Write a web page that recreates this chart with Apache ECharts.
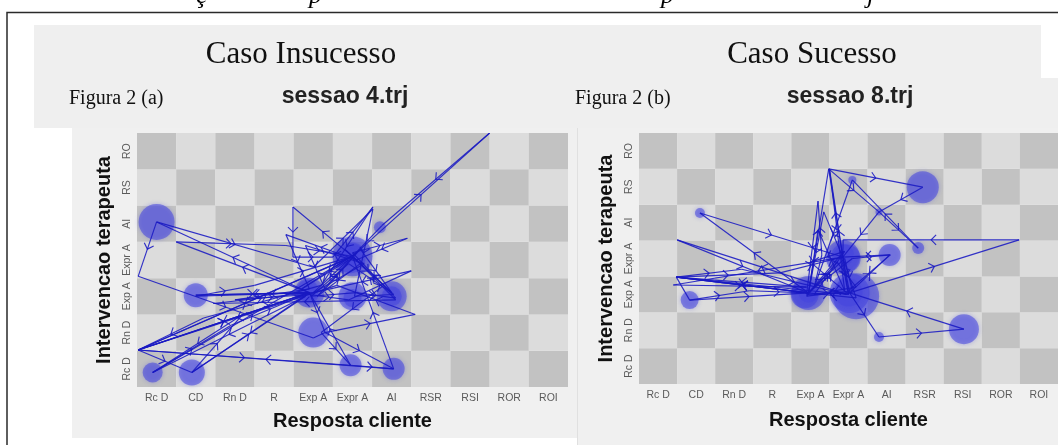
<!DOCTYPE html>
<html>
<head>
<meta charset="utf-8">
<script src="https://cdn.jsdelivr.net/npm/echarts@6/dist/echarts.min.js"></script>
<style>
html,body{margin:0;padding:0;background:#fff;}
#c{width:1058px;height:445px;}
</style>
</head>
<body>
<div id="c"></div>
<script>
// ---------- data ----------
const xCats = ['Rc D','CD','Rn D','R','Exp A','Expr A','AI','RSR','RSI','ROR','ROI'];
const yCats = ['Rc D','Rn D','Exp A','Expr A','AI','RS','RO'];

const headerLeft = 'Caso Insucesso';
const headerRight = 'Caso Sucesso';
const figLeft = 'Figura 2 (a)';
const figRight = 'Figura 2 (b)';
const titleLeft = 'sessao 4.trj';
const titleRight = 'sessao 8.trj';
const xTitle = 'Resposta cliente';
const yTitle = 'Intervencao terapeuta';

// bubbles: [x index, y index, visit weight (diameter)]
const leftBubbles = [
  [0,4.05,36],[1,2.03,24],[-0.1,-0.1,20],[0.9,-0.1,26],
  [5,3.1,40],[4.95,3.05,30],[5.0,3.15,24],[4.92,3.1,18],
  [3.9,2.1,30],[3.85,2.15,22],[3.9,2.05,18],
  [5,2.0,28],[5.0,1.95,18],[6,2.0,30],[6.0,2.0,20],
  [4,1.0,30],[4.95,0.1,22],[6.05,0.0,22],[5.7,3.9,12]
];
const rightBubbles = [
  [1.1,4.27,10],[0.83,1.84,18],[3.95,2.04,34],[3.85,2.0,28],[3.95,2.05,20],
  [4.85,3.04,34],[4.95,3.0,28],[4.85,3.1,22],[5.2,1.95,46],[5.03,2.04,40],[5.0,2.05,28],
  [6.08,3.1,22],[6.95,4.99,32],[6.83,3.29,12],[8.03,1.03,30],
  [5.8,0.81,10],[5.1,5.19,8],[5.8,4.3,7]
];

// trajectories: sequence of visited positions
const leftPath = [
  [0,4.05],[-0.47,2.55],[4.0,0.85],[4.3,1.0],[6.05,0.0],[-0.47,0.52],
  [3.9,2.1],[0.5,3.5],[3.3,3.4],[5.0,3.1],[3.48,4.46],[3.48,3.08],
  [4.5,3.08],[5.52,4.46],[4.2,2.3],[1.2,1.4],[-0.47,0.52],[4.95,0.1],
  [3.9,2.1],[0,4.05],[4.0,2.8],[5.52,4.4],[5.05,2.0],[6.05,2.05],
  [5.0,3.1],[8.5,6.5],[5.75,3.95],[5.0,3.1],[6.1,1.9],[1.45,1.8],
  [3.9,2.1],[1.0,2.03],[3.9,2.1],[-0.47,0.52],[0.9,-0.1],[2.2,1.5],
  [-0.1,-0.1],[1.9,1.2],[3.9,2.1],[4.3,1.0],[6.6,1.5],[4.6,2.3],
  [-0.47,0.52],[5.0,3.1],[5.8,2.3],[4.2,1.0],[4.95,0.1],[6.05,0.0],
  [5.0,3.1],[4.8,3.3],[5.2,2.9],[4.1,2.0],[5.1,3.2],[3.7,2.2],
  [4.9,3.0],[4.0,2.1],[5.3,2.9],[3.8,3.4],[4.3,2.2],[5.2,3.3],
  [6.0,2.1],[4.9,2.9],[3.95,2.0],[5.1,2.1],[6.1,1.95],[5.0,3.2],
  [6.4,3.6],[5.1,3.0],[3.3,3.7],[3.9,2.2],[2.0,1.9],[3.9,2.05],
  [4.9,1.9],[6.5,2.7],[4.0,2.1],[1.0,2.0],[2.5,2.3],[5.0,3.1],
  [-0.47,0.52],[3.9,2.1],[0.9,-0.1],[3.8,2.0],[-0.1,-0.1],[5.0,3.1]
];
const rightPath = [
  [0.83,1.84],[2.4,2.1],[3.95,2.04],[0.48,2.48],[2.2,2.7],[4.95,2.0],
  [0.5,3.52],[3.95,2.04],[1.1,4.27],[4.85,3.04],[0.4,2.26],[3.9,2.2],
  [0.48,2.48],[3.2,2.6],[4.85,3.04],[4.35,4.3],[3.95,2.04],[4.48,5.5],
  [6.95,4.99],[5.8,4.3],[4.85,3.04],[4.48,5.5],[5.8,4.3],[6.83,3.29],
  [5.1,5.19],[4.1,2.2],[4.3,3.1],[4.2,4.6],[3.9,2.0],[5.03,2.04],
  [9.48,3.52],[4.86,3.52],[4.85,3.04],[5.03,2.04],[5.8,0.81],[8.03,1.03],
  [5.03,2.04],[6.08,3.1],[4.85,3.04],[5.2,1.9],[3.95,2.04],[0.48,2.48],[0.83,1.84],
  [3.95,2.04],[4.8,3.1],[5.0,2.0],[4.0,2.1],[4.9,3.0],[5.1,2.1],
  [3.9,1.95],[4.7,2.9],[5.2,2.2],[4.1,2.0],[4.9,3.2],[4.0,2.9],
  [5.0,2.0],[4.5,5.5],[4.9,2.1],[4.2,3.8],[3.95,2.04],[0.48,2.48],
  [4.0,2.1],[5.1,3.0],[6.1,3.1],[5.0,2.1]
];

// ---------- helpers ----------
const DARK = '#c2c2c2', LIGHT = '#dcdcdc';
const LINE = 'rgba(25,25,195,0.88)';
const BUB = 'rgba(70,70,222,0.7)';

function boardCells(){
  const out=[];
  for(let i=0;i<xCats.length;i++) for(let j=0;j<yCats.length;j++) out.push([i,j,(i+j)%2]);
  return out;
}
function segments(path){
  const out=[];
  for(let k=0;k<path.length-1;k++) out.push([path[k][0],path[k][1],path[k+1][0],path[k+1][1]]);
  return out;
}
function boardRender(params, api){
  const i=api.value(0), j=api.value(1);
  const tl=api.coord([i-0.5, j+0.5]);
  const br=api.coord([i+0.5, j-0.5]);
  return {type:'rect', shape:{x:tl[0],y:tl[1],width:br[0]-tl[0],height:br[1]-tl[1]},
          style:{fill: api.value(2)===0 ? DARK : LIGHT}};
}
function trajRender(params, api){
  const a=api.coord([api.value(0),api.value(1)]);
  const b=api.coord([api.value(2),api.value(3)]);
  const dx=b[0]-a[0], dy=b[1]-a[1], len=Math.hypot(dx,dy);
  const ch=[{type:'line',shape:{x1:a[0],y1:a[1],x2:b[0],y2:b[1]},style:{stroke:LINE,lineWidth:1.15}}];
  if(len>35){
    const ux=dx/len, uy=dy/len, mx=a[0]+dx*0.5, my=a[1]+dy*0.5, s=7, ang=Math.PI/4;
    const bx=-ux, by=-uy, c=Math.cos(ang), sn=Math.sin(ang);
    const p1=[mx+s*(bx*c-by*sn), my+s*(bx*sn+by*c)];
    const p2=[mx+s*(bx*c+by*sn), my+s*(-bx*sn+by*c)];
    ch.push({type:'polyline',shape:{points:[p1,[mx,my],p2]},style:{stroke:LINE,fill:null,lineWidth:1.15}});
  }
  return {type:'group',children:ch};
}

const grids=[
  {left:137, top:133, width:431, height:254},
  {left:639, top:133, width:440, height:251}
];
const tickFont={fontFamily:'Liberation Sans, Arial, sans-serif', fontSize:10.5, color:'#5a5a5a'};
const nameFont={fontFamily:'Liberation Sans, Arial, sans-serif', fontSize:20, fontWeight:'bold', color:'#111'};

const xAxis=[], yAxis=[], series=[];
[0,1].forEach(g=>{
  xAxis.push({type:'value',gridIndex:g,min:-0.5,max:10.5,show:false});
  xAxis.push({type:'category',gridIndex:g,data:xCats,position:'bottom',
    axisLine:{show:false},axisTick:{show:false},splitLine:{show:false},
    axisLabel:Object.assign({interval:0,margin:6},tickFont),
    name:xTitle,nameLocation:'middle',nameGap:g===0?24:26,nameTextStyle:nameFont});
  yAxis.push({type:'value',gridIndex:g,min:-0.5,max:6.5,show:false});
  yAxis.push({type:'category',gridIndex:g,data:yCats,position:'left',
    axisLine:{show:false},axisTick:{show:false},splitLine:{show:false},
    axisLabel:Object.assign({interval:0,margin:4,rotate:90},tickFont),
    name:yTitle,nameLocation:'middle',nameGap:23,nameTextStyle:nameFont});
  const bubbles = g===0 ? leftBubbles : rightBubbles;
  const path = g===0 ? leftPath : rightPath;
  series.push({type:'custom',xAxisIndex:2*g,yAxisIndex:2*g,renderItem:boardRender,
    data:boardCells(),encode:{x:0,y:1},z:1,silent:true,clip:true});
  series.push({type:'scatter',xAxisIndex:2*g,yAxisIndex:2*g,data:bubbles,
    symbolSize:v=>v[2],itemStyle:{color:BUB,shadowBlur:4,shadowColor:'rgba(70,70,222,0.6)'},z:3,silent:true});
  series.push({type:'custom',xAxisIndex:2*g,yAxisIndex:2*g,renderItem:trajRender,
    data:segments(path),encode:{x:[0,2],y:[1,3]},z:4,silent:true,clip:true});
});

const serif='Liberation Serif, Times New Roman, serif';
const sans='Liberation Sans, Arial, sans-serif';
const graphic=[
  {type:'rect',z:-100,shape:{x:34,y:25,width:1007,height:103},style:{fill:'#efefef'}},
  {type:'rect',z:-100,shape:{x:34,y:78,width:1024,height:50},style:{fill:'#efefef'}},
  {type:'rect',z:-100,shape:{x:72,y:128,width:505,height:310},style:{fill:'#f0f0f0'}},
  {type:'rect',z:-100,shape:{x:578,y:128,width:480,height:317},style:{fill:'#f0f0f0'}},
  {type:'rect',z:-99,shape:{x:577,y:128,width:1,height:317},style:{fill:'#e0e0e0'}},
  {type:'rect',z:100,shape:{x:7,y:12.5,width:1070,height:500},style:{fill:null,stroke:'#2a2a2a',lineWidth:1.5}},
  {type:'text',z:100,x:196,y:9,style:{text:'ç',font:'italic 26px '+serif,fill:'#000',textVerticalAlign:'bottom'}},
  {type:'text',z:100,x:309,y:9,style:{text:'p',font:'italic 26px '+serif,fill:'#000',textVerticalAlign:'bottom'}},
  {type:'text',z:100,x:661,y:9,style:{text:'p',font:'italic 26px '+serif,fill:'#000',textVerticalAlign:'bottom'}},
  {type:'text',z:100,x:867,y:9,style:{text:'j',font:'italic 26px '+serif,fill:'#000',textVerticalAlign:'bottom'}},
  {type:'text',z:100,x:301,y:55,style:{text:headerLeft,font:'31px '+serif,fill:'#111',textAlign:'center',textVerticalAlign:'middle'}},
  {type:'text',z:100,x:812,y:55,style:{text:headerRight,font:'31px '+serif,fill:'#111',textAlign:'center',textVerticalAlign:'middle'}},
  {type:'text',z:100,x:69,y:99,style:{text:figLeft,font:'20px '+serif,fill:'#111',textAlign:'left',textVerticalAlign:'middle'}},
  {type:'text',z:100,x:575,y:99,style:{text:figRight,font:'20px '+serif,fill:'#111',textAlign:'left',textVerticalAlign:'middle'}},
  {type:'text',z:100,x:345,y:97,style:{text:titleLeft,font:'bold 23px '+sans,fill:'#222',textAlign:'center',textVerticalAlign:'middle'}},
  {type:'text',z:100,x:850,y:97,style:{text:titleRight,font:'bold 23px '+sans,fill:'#222',textAlign:'center',textVerticalAlign:'middle'}}
];

const chart=echarts.init(document.getElementById('c'),null,{renderer:'canvas'});
chart.setOption({
  animation:false,
  backgroundColor:'#ffffff',
  grid:grids,
  xAxis:xAxis,
  yAxis:yAxis,
  series:series,
  graphic:graphic
});
</script>
</body>
</html>
